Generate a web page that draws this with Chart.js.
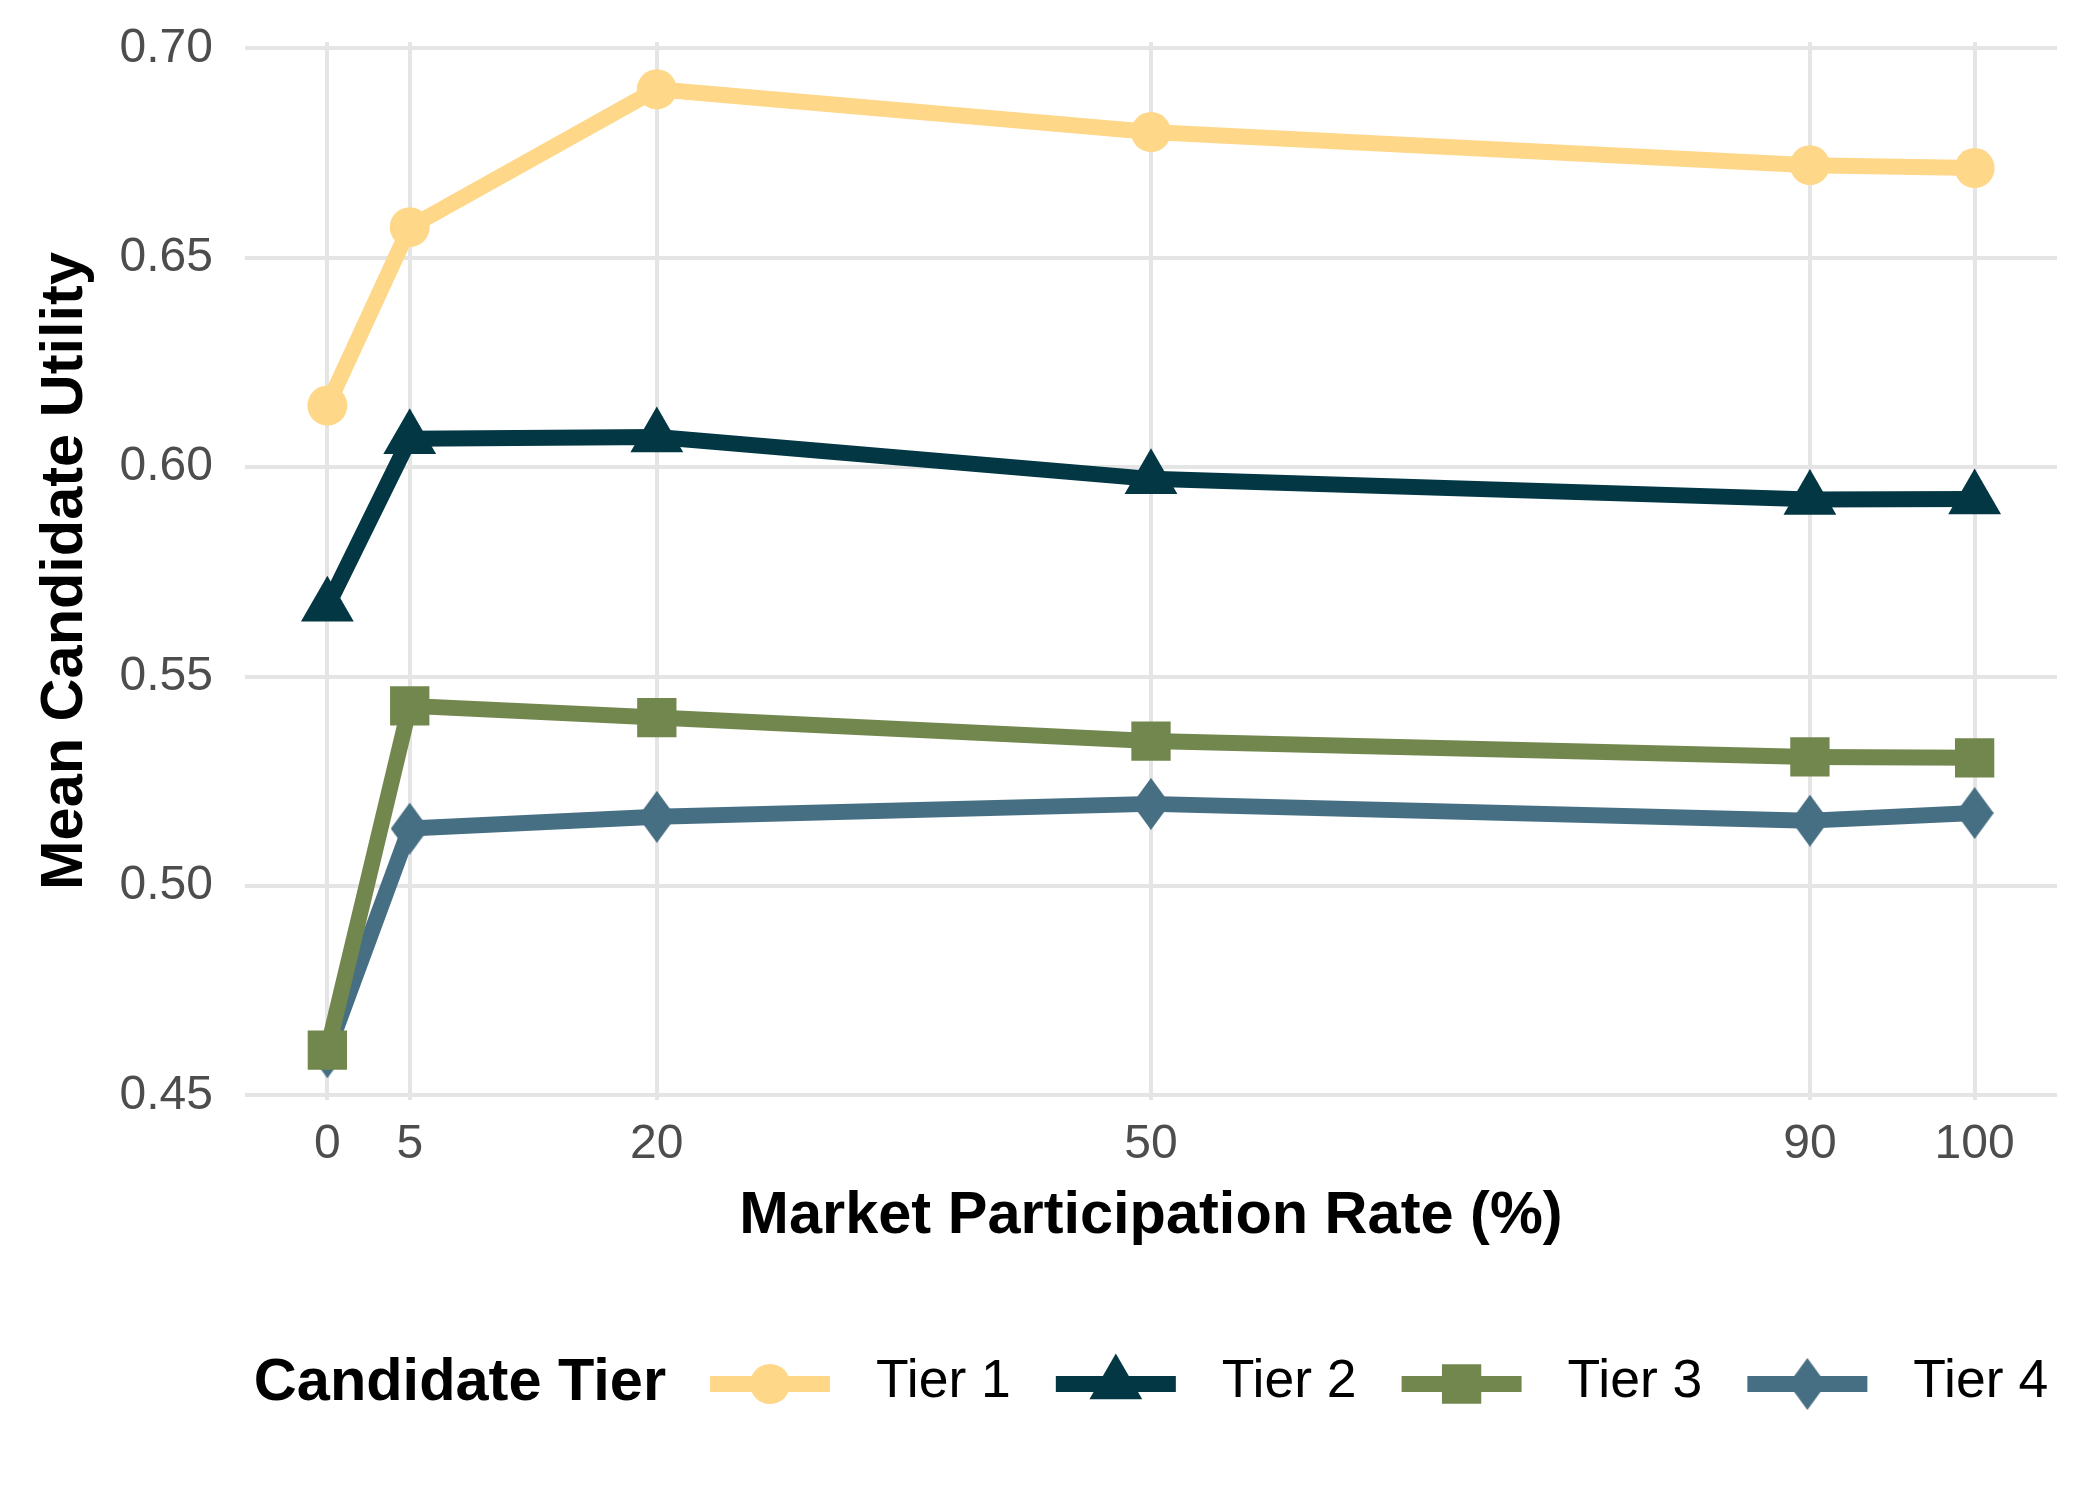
<!DOCTYPE html>
<html>
<head>
<meta charset="utf-8">
<script src="https://cdn.jsdelivr.net/npm/chart.js@4.4.1/dist/chart.umd.min.js"></script>
<style>
  html, body { margin: 0; padding: 0; background: #ffffff; }
  #wrap { width: 2100px; height: 1500px; }
  canvas { display: block; }
</style>
</head>
<body>
<div id="wrap"><canvas id="c" width="2100" height="1500"></canvas></div>
<script>
// ---- data ----
const participation = [0, 5, 20, 50, 90, 100];
const tier1 = [0.6147, 0.6573, 0.6902, 0.6800, 0.6721, 0.6714];
const tier2 = [0.5668, 0.6068, 0.6072, 0.5972, 0.5923, 0.5924];
const tier3 = [0.4608, 0.5430, 0.5402, 0.5346, 0.5308, 0.5306];
const tier4 = [0.4603, 0.5137, 0.5165, 0.5196, 0.5156, 0.5174];
const seriesNames = ['Tier 1', 'Tier 2', 'Tier 3', 'Tier 4'];
const xTicks = [0, 5, 20, 50, 90, 100];
const yTicks = [0.45, 0.50, 0.55, 0.60, 0.65, 0.70];
const xTitle = 'Market Participation Rate (%)';
const yTitle = 'Mean Candidate Utility';
const legendTitle = 'Candidate Tier';

// ---- styles ----
const colors = ['#FED789', '#023743', '#72874E', '#476F84'];
const FONT = '"Liberation Sans", Arial, Helvetica, sans-serif';

// tall diamond marker (as in the original), drawn once into a small canvas
function makeDiamond(color, w, h) {
  const cv = document.createElement('canvas');
  cv.width = w; cv.height = h;
  const c = cv.getContext('2d');
  c.fillStyle = color;
  c.beginPath();
  c.moveTo(w / 2, 0);
  c.lineTo(w, h / 2);
  c.lineTo(w / 2, h);
  c.lineTo(0, h / 2);
  c.closePath();
  c.fill();
  return cv;
}

const shapes = ['circle', 'triangle', 'rect', makeDiamond(colors[3], 38, 52)];
const radii = [20, 30.5, 27.8, 24];

const allSeries = [tier1, tier2, tier3, tier4];
const datasets = allSeries.map((vals, i) => ({
  label: seriesNames[i],
  data: participation.map((p, j) => ({ x: p, y: vals[j] })),
  borderColor: colors[i],
  backgroundColor: colors[i],
  borderWidth: 16,
  borderJoinStyle: 'round',
  borderCapStyle: 'butt',
  pointStyle: shapes[i],
  pointRadius: radii[i],
  pointHoverRadius: radii[i],
  pointBackgroundColor: colors[i],
  pointBorderColor: colors[i],
  pointBorderWidth: 0,
  tension: 0,
  fill: false
}));

function drawShape(ctx, style, r, x, y) {
  if (style instanceof HTMLCanvasElement) {
    ctx.drawImage(style, x - style.width / 2, y - style.height / 2);
    return;
  }
  ctx.beginPath();
  if (style === 'circle') {
    ctx.arc(x, y, r, 0, Math.PI * 2);
  } else if (style === 'triangle') {
    const a = 2 * Math.PI / 3;
    ctx.moveTo(x, y - r);
    ctx.lineTo(x + Math.sin(a) * r, y - Math.cos(a) * r);
    ctx.lineTo(x - Math.sin(a) * r, y - Math.cos(a) * r);
  } else if (style === 'rect') {
    const s = Math.SQRT1_2 * r;
    ctx.rect(x - s, y - s, 2 * s, 2 * s);
  }
  ctx.closePath();
  ctx.fill();
}

const inlineLegend = {
  id: 'inlineLegend',
  afterDraw(chart) {
    const ctx = chart.ctx;
    const area = chart.chartArea;
    const titleFont = 'bold 59.5px ' + FONT;
    const labelFont = '53.5px ' + FONT;
    const keyW = 120, titleGap = 44, keyTextGap = 46, itemGap = 45;
    ctx.save();
    ctx.font = titleFont;
    const tw = ctx.measureText(legendTitle).width;
    ctx.font = labelFont;
    const lws = chart.data.datasets.map(d => ctx.measureText(d.label).width);
    let total = tw + titleGap;
    lws.forEach((w, i) => { total += keyW + keyTextGap + w + (i < lws.length - 1 ? itemGap : 0); });
    let x = (area.left + area.right) / 2 - total / 2;
    const yKey = 1384, yText = 1382;
    ctx.textBaseline = 'middle';
    ctx.textAlign = 'left';
    ctx.fillStyle = '#000000';
    ctx.font = titleFont;
    ctx.fillText(legendTitle, x, yText + 2);
    x += tw + titleGap;
    chart.data.datasets.forEach((d, i) => {
      ctx.strokeStyle = d.borderColor;
      ctx.lineWidth = d.borderWidth;
      ctx.lineCap = 'butt';
      ctx.beginPath();
      ctx.moveTo(x, yKey);
      ctx.lineTo(x + keyW, yKey);
      ctx.stroke();
      ctx.fillStyle = d.pointBackgroundColor;
      drawShape(ctx, d.pointStyle, d.pointRadius, x + keyW / 2, yKey);
      x += keyW + keyTextGap;
      ctx.fillStyle = '#000000';
      ctx.font = labelFont;
      ctx.fillText(d.label, x, yText);
      x += lws[i] + itemGap;
    });
    ctx.restore();
  }
};

new Chart(document.getElementById('c'), {
  type: 'line',
  data: { datasets },
  plugins: [inlineLegend],
  options: {
    responsive: false,
    devicePixelRatio: 1,
    animation: false,
    events: [],
    layout: { padding: { left: 0, right: 43, top: 42, bottom: 240 } },
    plugins: {
      legend: { display: false },
      tooltip: { enabled: false },
      title: { display: false }
    },
    scales: {
      x: {
        type: 'linear',
        min: -5,
        max: 105,
        afterBuildTicks: s => { s.ticks = xTicks.map(v => ({ value: v })); },
        afterFit: s => { s.height = 160; s.paddingLeft = 0; s.paddingRight = 0; },
        grid: { color: '#E5E5E5', lineWidth: 4, drawTicks: false },
        border: { display: false },
        ticks: {
          padding: 16,
          color: '#4D4D4D',
          font: { family: FONT, size: 48 },
          maxRotation: 0,
          autoSkip: false,
          callback: v => String(v)
        },
        title: {
          display: true,
          text: xTitle,
          color: '#000000',
          font: { family: FONT, size: 59.5, weight: 'bold' },
          padding: { top: 0, bottom: 8 }
        }
      },
      y: {
        type: 'linear',
        min: 0.4489,
        max: 0.7015,
        afterBuildTicks: s => { s.ticks = yTicks.map(v => ({ value: v })); },
        afterFit: s => { s.width = 245; s.paddingTop = 0; s.paddingBottom = 0; },
        grid: { color: '#E5E5E5', lineWidth: 4, drawTicks: false },
        border: { display: false },
        ticks: {
          padding: 32,
          color: '#4D4D4D',
          font: { family: FONT, size: 48 },
          autoSkip: false,
          callback: v => Number(v).toFixed(2)
        },
        title: {
          display: true,
          text: yTitle,
          color: '#000000',
          font: { family: FONT, size: 59.5, weight: 'bold' },
          padding: { top: 30, bottom: 0 }
        }
      }
    }
  }
});
</script>
</body>
</html>
